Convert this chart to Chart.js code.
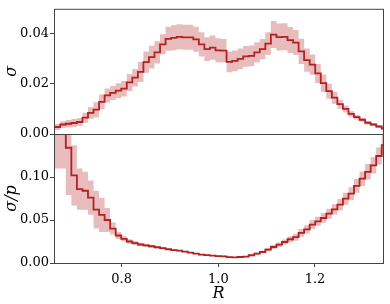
<!DOCTYPE html>
<html>
<head>
<meta charset="utf-8">
<script src="https://cdn.jsdelivr.net/npm/chart.js@4.4.0/dist/chart.umd.min.js"></script>
<style>
  body { margin: 0; background: #fff; }
  #wrap { position: relative; width: 390px; height: 304px; }
  #wrap canvas { position: absolute; left: 0; top: 0; }
</style>
</head>
<body>
<div id="wrap">
  <canvas id="sotto" width="390" height="304"></canvas>
  <canvas id="sopra" width="390" height="304"></canvas>
</div>
<script>
// bin dell'istogramma in R
const binStart = 0.6615;
const binWidth = 0.011467;

// pannello alto: sigma
const sigma = [
  0.0028, 0.0038, 0.0041, 0.0044, 0.0048, 0.0065, 0.0084, 0.0097, 0.0128, 0.0154,
  0.0164, 0.0173, 0.0181, 0.0206, 0.0225, 0.0248, 0.0287, 0.0307, 0.0326, 0.0358,
  0.0380, 0.0384, 0.0388, 0.0386, 0.0386, 0.0378, 0.0358, 0.0339, 0.0345, 0.0334,
  0.0333, 0.0288, 0.0292, 0.0300, 0.0310, 0.0312, 0.0326, 0.0339, 0.0361, 0.0397,
  0.0387, 0.0388, 0.0375, 0.0365, 0.0330, 0.0295, 0.0277, 0.0242, 0.0203, 0.0171,
  0.0145, 0.0119, 0.0100, 0.0080, 0.0067, 0.0057, 0.0045, 0.0038, 0.0030, 0.0022
];
const sigmaErr = [
  0.0012, 0.0013, 0.0015, 0.0016, 0.0016, 0.0020, 0.0023, 0.0030, 0.0030, 0.0028,
  0.0028, 0.0030, 0.0031, 0.0034, 0.0035, 0.0040, 0.0042, 0.0045, 0.0044, 0.0040,
  0.0048, 0.0050, 0.0050, 0.0050, 0.0050, 0.0050, 0.0048, 0.0047, 0.0048, 0.0048,
  0.0046, 0.0041, 0.0041, 0.0041, 0.0041, 0.0041, 0.0040, 0.0040, 0.0045, 0.0054,
  0.0054, 0.0054, 0.0052, 0.0050, 0.0050, 0.0046, 0.0040, 0.0038, 0.0035, 0.0030,
  0.0024, 0.0018, 0.0014, 0.0011, 0.0009, 0.0008, 0.0007, 0.0006, 0.0006, 0.0005
];

// pannello basso: sigma/p
const sigmaRel = [
  0.190, 0.170, 0.134, 0.102, 0.086, 0.084, 0.076, 0.062, 0.056, 0.050,
  0.040, 0.032, 0.028, 0.025, 0.023, 0.0215, 0.0205, 0.0195, 0.0183, 0.0172,
  0.0160, 0.0150, 0.0143, 0.0132, 0.0120, 0.0110, 0.0097, 0.0092, 0.0085, 0.0081,
  0.0078, 0.0068, 0.0066, 0.0070, 0.0074, 0.0090, 0.0108, 0.0128, 0.0155, 0.0186,
  0.0213, 0.0244, 0.0276, 0.0300, 0.0350, 0.0390, 0.0446, 0.0485, 0.0523, 0.0573,
  0.0624, 0.0678, 0.0748, 0.0806, 0.0896, 0.0980, 0.1060, 0.1136, 0.1244, 0.1370
];
const sigmaRelErr = [
  0.080, 0.060, 0.055, 0.035, 0.024, 0.022, 0.020, 0.022, 0.020, 0.014,
  0.007, 0.004, 0.003, 0.0025, 0.0025, 0.002, 0.002, 0.0018, 0.0015, 0.0012,
  0.001, 0.001, 0.0009, 0.0008, 0.0007, 0.0006, 0.0006, 0.0005, 0.0005, 0.0005,
  0.0005, 0.0005, 0.0005, 0.0006, 0.0007, 0.0009, 0.0012, 0.0015, 0.0018, 0.0022,
  0.0026, 0.003, 0.0035, 0.004, 0.0045, 0.0048, 0.005, 0.0052, 0.0055, 0.0058,
  0.006, 0.0065, 0.007, 0.0075, 0.008, 0.0085, 0.009, 0.0095, 0.010, 0.012
];

const xTicks = [0.8, 1.0, 1.2];
const xTickLabels = ['0.8', '1.0', '1.2'];
const yTicksTop = [0, 0.02, 0.04];
const yTickLabelsTop = ['0.00', '0.02', '0.04'];
const yTicksBottom = [0, 0.05, 0.10];
const yTickLabelsBottom = ['0.00', '0.05', '0.10'];

const rosso = '#b22222';
const banda = 'rgba(178,34,34,0.3)';
const bordo = '#444';

Chart.defaults.font.family = 'DejaVu Serif';
Chart.defaults.font.size = 13;
Chart.defaults.color = '#000';

function gradini(valori) {
  let punti = [];
  for (let i = 0; i < valori.length; i++) {
    punti.push({x: binStart + i * binWidth, y: valori[i]});
  }
  punti.push({x: binStart + valori.length * binWidth, y: valori[valori.length - 1]});
  return punti;
}

function sposta(valori, err, segno) {
  return valori.map((v, i) => v + segno * err[i]);
}

const cornice = {
  id: 'cornice',
  afterDraw(chart) {
    const a = chart.chartArea;
    const ctx = chart.ctx;
    ctx.save();
    ctx.strokeStyle = bordo;
    ctx.lineWidth = 1;
    ctx.strokeRect(a.left + 0.5, a.top + 0.5, a.right - a.left, a.bottom - a.top);
    ctx.restore();
  }
};

function datasets(valori, err) {
  return [
    {data: gradini(valori), borderColor: rosso, borderWidth: 1.8, stepped: true,
     pointRadius: 0, fill: false, clip: 0},
    {data: gradini(sposta(valori, err, 1)), borderWidth: 0, stepped: true,
     pointRadius: 0, fill: false, clip: 0},
    {data: gradini(sposta(valori, err, -1)), borderWidth: 0, stepped: true,
     pointRadius: 0, fill: '-1', backgroundColor: banda, clip: 0}
  ];
}

function asseY(max, ticks, labels, titolo) {
  return {
    type: 'linear', min: 0, max: max,
    afterFit(scale) { scale.width = 54; },
    afterBuildTicks(scale) { scale.ticks = ticks.map(v => ({value: v})); },
    ticks: { padding: 1, callback: (v, i) => labels[i] },
    grid: { drawOnChartArea: false, tickLength: 4, color: bordo },
    border: { display: false },
    title: { display: true, text: titolo, padding: {top: 2.4, bottom: 0},
             font: {family: 'DejaVu Serif', style: 'italic', size: 16, lineHeight: 1.2} }
  };
}

new Chart(document.getElementById('sopra'), {
  type: 'line',
  data: { datasets: datasets(sigma, sigmaErr) },
  options: {
    responsive: false, animation: false,
    layout: { padding: {left: 0, top: 5, right: 7, bottom: 170} },
    plugins: { legend: {display: false}, tooltip: {enabled: false} },
    scales: {
      x: { type: 'linear', min: 0.66, max: 1.3407, display: false },
      y: asseY(0.05, yTicksTop, yTickLabelsTop, 'σ')
    }
  },
  plugins: [cornice]
});

new Chart(document.getElementById('sotto'), {
  type: 'line',
  data: { datasets: datasets(sigmaRel, sigmaRelErr) },
  options: {
    responsive: false, animation: false,
    layout: { padding: {left: 0, top: 134, right: 7, bottom: 0} },
    plugins: { legend: {display: false}, tooltip: {enabled: false} },
    scales: {
      x: {
        type: 'linear', min: 0.66, max: 1.3407,
        afterFit(scale) { scale.height = 41; },
        afterBuildTicks(scale) { scale.ticks = xTicks.map(v => ({value: v})); },
        ticks: { padding: 5, maxRotation: 0, callback: (v, i) => xTickLabels[i] },
        grid: { drawOnChartArea: false, tickLength: 4, color: bordo },
        border: { display: false },
        title: { display: true, text: 'R', padding: {top: 0, bottom: 0.5},
                 font: {family: 'DejaVu Serif', style: 'italic', size: 16, lineHeight: 1.2} }
      },
      y: asseY(0.15, yTicksBottom, yTickLabelsBottom, 'σ/p')
    }
  },
  plugins: [cornice]
});
</script>
</body>
</html>
